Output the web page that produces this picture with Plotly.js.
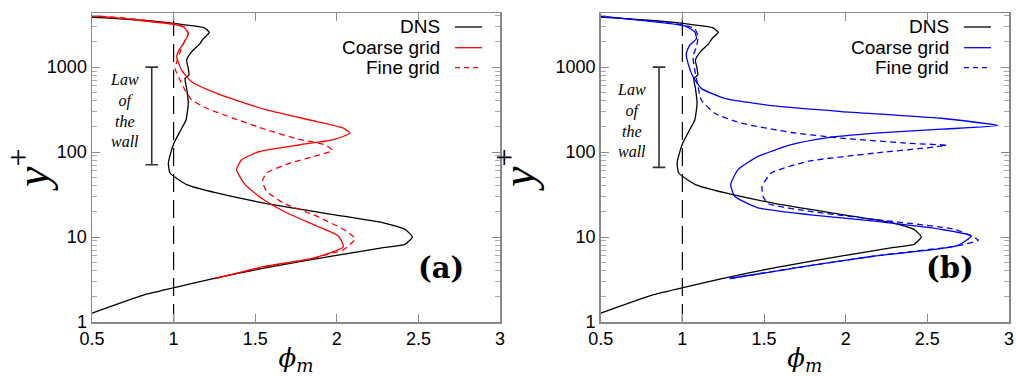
<!DOCTYPE html>
<html>
<head>
<meta charset="utf-8">
<script src="https://cdn.plot.ly/plotly-3.0.1.min.js"></script>
<style>html,body{margin:0;padding:0;background:#fff;}#chart{width:1016px;height:376px;}</style>
</head>
<body>
<div id="chart"></div>
<script>
// ---- data (phi_m vs y+) ----
const dnsPhi = [0.5, 0.815, 0.998, 1.243, 1.57, 1.979, 2.285, 2.418, 2.463, 2.418, 2.285, 1.979, 1.57, 1.264, 1.08, 0.978, 0.968, 0.982, 1.002, 1.039, 1.076, 1.09, 1.08, 1.07, 1.094, 1.09, 1.08, 1.11, 1.162, 1.182, 1.219, 1.186, 1.06, 0.855, 0.549, 0.4];
const dnsY   = [1.27, 2.07, 2.52, 3.25, 4.37, 5.99, 7.5, 8.2, 10, 12.3, 14.7, 18.4, 24.8, 33, 41.4, 56.7, 74.3, 97.3, 127, 175, 239, 375, 562, 736, 806, 964, 1208, 1513, 1892, 2168, 2548, 2916, 3162, 3493, 3821, 3950];

const coarseAPhi = [1.254, 1.57, 1.846, 2.04, 2.009, 1.877, 1.693, 1.55, 1.438, 1.386, 1.417, 1.529, 1.775, 1.979, 2.081, 2.04, 1.877, 1.57, 1.264, 1.111, 1.049, 1.019, 1.033, 1.06, 1.09, 1.06, 0.998, 0.753, 0.549, 0.4];
const coarseAY   = [3.25, 4.57, 5.57, 7.7, 10.3, 13.5, 19.3, 27.6, 41.4, 62, 81.3, 102, 122, 140, 167, 191, 229, 313, 491, 673, 922, 1322, 1584, 1893, 2483, 2970, 3190, 3620, 3960, 4150];

const fineAPhi = [1.254, 1.57, 1.846, 1.979, 2.04, 2.112, 2.06, 1.877, 1.672, 1.57, 1.544, 1.57, 1.713, 1.877, 1.973, 1.928, 1.775, 1.57, 1.366, 1.203, 1.111, 1.07, 1.039, 1.009, 1.025, 1.045, 1.07, 1.09, 1.07, 0.998, 0.753, 0.5, 0.4];
const fineAY   = [3.25, 4.5, 5.57, 6.55, 7.04, 9.55, 11.7, 17.6, 25.2, 34.6, 45.3, 56.7, 74.3, 90.6, 104.6, 122, 140, 183, 250, 328, 410, 537, 704, 964, 1250, 1600, 2070, 2483, 2950, 3240, 3700, 4050, 4200];

const coarseBPhi = [1.29, 1.769, 2.178, 2.678, 2.769, 2.586, 2.178, 1.769, 1.463, 1.320, 1.296, 1.341, 1.463, 1.667, 1.871, 2.178, 2.586, 2.933, 2.586, 1.973, 1.565, 1.259, 1.116, 1.065, 1.035, 1.024, 1.045, 1.086, 1.076, 1.014, 0.749, 0.5, 0.4];
const coarseBY   = [3.25, 4.57, 5.98, 7.85, 10.3, 12.3, 15.4, 18.4, 22.1, 30.2, 41.4, 62.1, 88.9, 122, 146, 167, 186, 205, 250, 300, 349, 429, 562, 771, 1104, 1446, 1811, 2168, 2594, 3050, 3550, 3960, 4150];

const fineBPhi = [1.29, 1.769, 2.178, 2.678, 2.812, 2.669, 2.178, 1.769, 1.524, 1.494, 1.488, 1.545, 1.769, 2.178, 2.616, 2.382, 1.973, 1.667, 1.361, 1.198, 1.116, 1.096, 1.076, 1.065, 1.086, 1.096, 1.076, 0.953, 0.5, 0.4];
const fineBY   = [3.25, 4.57, 5.98, 7.85, 9.2, 12.3, 16.1, 20.2, 24.8, 30.2, 39.6, 56.7, 77.8, 97.3, 120, 127, 146, 170, 219, 286, 410, 589, 922, 1322, 1730, 2265, 2838, 3250, 3960, 4150];

// law-of-the-wall bars
const lawPhiA = [0.866, 0.866];
const lawYA   = [71, 1000];
const lawPhiB = [0.857, 0.857];
const lawYB   = [66, 1000];

// reference phi_m = 1
const refPhi = [1, 1];
const refY   = [1, 4300];

const xTicks = [0.5, 1, 1.5, 2, 2.5, 3];
const xTickText = ['0.5', '1', '1.5', '2', '2.5', '3'];
const yTicks = [1, 10, 100, 1000];
const yTickText = ['1', '10', '100', '1000'];

const legendNames = ['DNS', 'Coarse grid', 'Fine grid'];
const panelLabels = ['(a)', '(b)'];
const lawText = '<i>Law<br>of<br>the<br>wall</i>';

// ---- build ----
const W = 1016, H = 376;
const sm = 0.5;
function line(x, y, color, dash, xa, ya) {
  return {x: x, y: y, xaxis: xa, yaxis: ya, type: 'scatter', mode: 'lines',
    line: {color: color, width: 1.3, dash: dash, shape: 'spline', smoothing: sm},
    showlegend: false, hoverinfo: 'skip'};
}
function bar(x, y, xa, ya) {
  return {x: x, y: y, xaxis: xa, yaxis: ya, type: 'scatter', mode: 'lines+markers',
    line: {color: '#333', width: 1.6},
    marker: {symbol: 'line-ew-open', size: 9, color: '#333', line: {color: '#333', width: 1.6}},
    showlegend: false, hoverinfo: 'skip'};
}
function refLine(xa, ya) {
  return {x: refPhi, y: refY, xaxis: xa, yaxis: ya, type: 'scatter', mode: 'lines',
    line: {color: '#000', width: 1.2, dash: '18px,8px'}, showlegend: false, hoverinfo: 'skip'};
}

const traces = [
  refLine('x', 'y'), bar(lawPhiA, lawYA, 'x', 'y'),
  line(dnsPhi, dnsY, '#000', 'solid', 'x', 'y'),
  line(coarseAPhi, coarseAY, '#ff0000', 'solid', 'x', 'y'),
  line(fineAPhi, fineAY, '#ff0000', '6px,4px', 'x', 'y'),
  refLine('x2', 'y2'), bar(lawPhiB, lawYB, 'x2', 'y2'),
  line(dnsPhi, dnsY, '#000', 'solid', 'x2', 'y2'),
  line(coarseBPhi, coarseBY, '#0000ff', 'solid', 'x2', 'y2'),
  line(fineBPhi, fineBY, '#0000ff', '6px,4px', 'x2', 'y2')
];

const axCol = '#888';
const tickFont = {family: 'Liberation Sans, Arial, sans-serif', size: 18, color: '#000'};
function xax(domain, anchor) {
  return {domain: domain, anchor: anchor, range: [0.5, 3], tickvals: xTicks, ticktext: xTickText,
    ticks: 'inside', ticklen: 8, tickcolor: axCol, tickwidth: 1, showline: true, linecolor: axCol,
    linewidth: 1.5, mirror: 'ticks', showgrid: false, zeroline: false, tickfont: tickFont,
    title: {text: '<i>ϕ<sub>m</sub></i>', font: {family: 'DejaVu Serif, serif', size: 26, color: '#000'}, standoff: 6}};
}
function yax(anchor) {
  return {domain: [1 - 322 / H, 1 - 13.3 / H], anchor: anchor, type: 'log', range: [0, Math.log10(4300)],
    tickvals: yTicks, ticktext: yTickText, ticks: 'inside', ticklen: 8, tickcolor: axCol, tickwidth: 1,
    minor: {ticks: 'inside', ticklen: 5, tickcolor: '#aaa', tickvals: [2,3,4,5,6,7,8,9,20,30,40,50,60,70,80,90,200,300,400,500,600,700,800,900,2000,3000,4000], showgrid: false},
    showline: true, linecolor: axCol, linewidth: 1.5, mirror: 'ticks', showgrid: false, zeroline: false,
    tickfont: tickFont,
    title: {text: '<i>y</i><sup>+</sup>', font: {family: 'Liberation Serif, serif', size: 46, color: '#000'}, standoff: 6}};
}

const annotations = [];
const shapes = [];
const panels = [
  {x0: 92, x1: 500, color: '#ff0000', textR: 441.7, l0: 455, l1: 482},
  {x0: 600.7, x1: 1009, color: '#0000ff', textR: 950.7, l0: 964, l1: 991}
];
const legendY = [27, 47.7, 67.7];
panels.forEach((p, i) => {
  const cols = ['#000', p.color, p.color];
  const dashes = ['solid', 'solid', '5px,4px'];
  legendNames.forEach((n, k) => {
    annotations.push({xref: 'paper', yref: 'paper', x: p.textR / W, y: 1 - legendY[k] / H,
      xanchor: 'right', yanchor: 'middle', showarrow: false, text: n,
      font: {family: 'Liberation Sans, Arial, sans-serif', size: 19, color: '#000'}});
    shapes.push({type: 'line', xref: 'paper', yref: 'paper', x0: p.l0 / W, x1: p.l1 / W,
      y0: 1 - legendY[k] / H, y1: 1 - legendY[k] / H, line: {color: cols[k], width: 1.3, dash: dashes[k]}});
  });
  annotations.push({xref: 'paper', yref: 'paper', x: (i === 0 ? 441 : 950) / W, y: 1 - 268 / H,
    xanchor: 'center', yanchor: 'middle', showarrow: false, text: '<b>' + panelLabels[i] + '</b>',
    font: {family: 'DejaVu Serif, serif', size: 29, color: '#000'}});
  annotations.push({xref: 'paper', yref: 'paper', x: (i === 0 ? 124 : 631) / W, y: 1 - (i === 0 ? 110 : 120) / H,
    xanchor: 'center', yanchor: 'middle', showarrow: false, text: lawText, align: 'center',
    font: {family: 'Liberation Serif, serif', size: 16, color: '#000'}});
});

const layout = {
  width: W, height: H, margin: {l: 0, r: 0, t: 0, b: 0}, paper_bgcolor: '#fff', plot_bgcolor: '#fff',
  showlegend: false,
  xaxis: xax([92 / W, 500 / W], 'y'), yaxis: yax('x'),
  xaxis2: xax([600.7 / W, 1009 / W], 'y2'), yaxis2: yax('x2'),
  annotations: annotations, shapes: shapes
};
Plotly.newPlot('chart', traces, layout, {staticPlot: true, displayModeBar: false});
</script>
</body>
</html>
